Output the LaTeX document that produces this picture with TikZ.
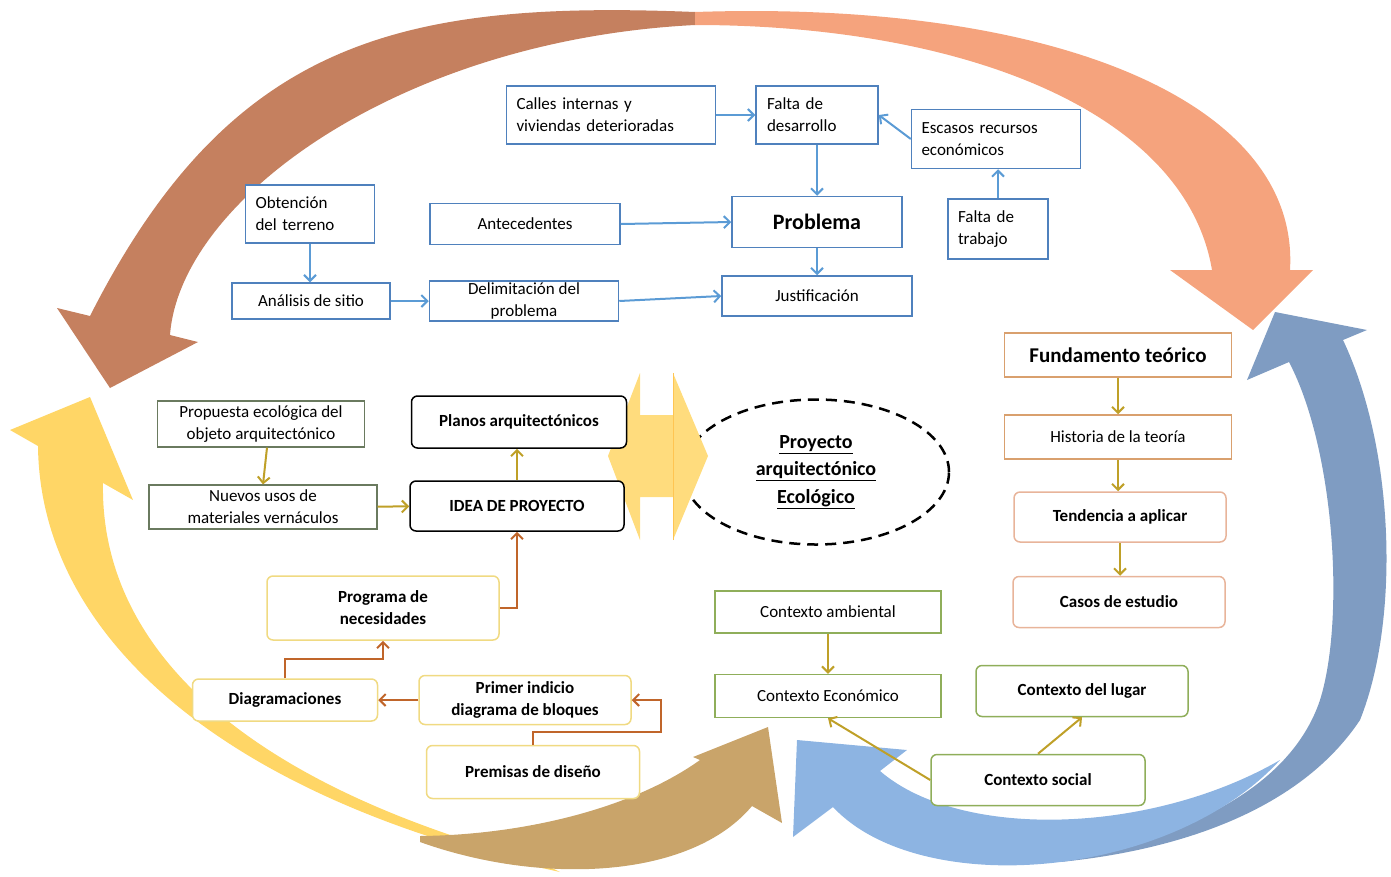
\documentclass[tikz,border=0pt]{standalone}
\usepackage{fontspec}
\setmainfont{Carlito}
\usetikzlibrary{arrows.meta,shapes.geometric}

\definecolor{azulcaja}{RGB}{79,129,189}
\definecolor{azullinea}{RGB}{91,155,213}
\definecolor{cafe}{RGB}{197,128,95}
\definecolor{salmon}{RGB}{245,163,125}
\definecolor{azulgris}{RGB}{127,156,194}
\definecolor{celeste}{RGB}{141,180,226}
\definecolor{amarillo}{RGB}{255,214,102}
\definecolor{ocre}{RGB}{201,164,106}
\definecolor{oro}{RGB}{191,160,40}
\definecolor{naranja}{RGB}{192,101,42}
\definecolor{verdegris}{RGB}{106,122,95}
\definecolor{verde}{RGB}{143,174,90}
\definecolor{tostado}{RGB}{217,160,110}
\definecolor{durazno}{RGB}{232,180,154}
\definecolor{crema}{RGB}{240,218,130}

\begin{document}
\begin{tikzpicture}[x=1pt,y=-1pt,
  caja/.style={draw, line width=1.5pt, fill=white, inner sep=0pt, align=center,
    font=\fontsize{17}{22}\selectfont},
  azul/.style={caja, draw=azulcaja},
  eco/.style={caja, draw=verdegris, line width=1.2pt},
  negra/.style={caja, draw=black, rounded corners=6pt, font=\bfseries\fontsize{17}{22}\selectfont},
  crem/.style={caja, draw=crema, rounded corners=6pt, font=\bfseries\fontsize{17}{22}\selectfont},
  teoria/.style={caja, draw=tostado},
  durz/.style={caja, draw=durazno, rounded corners=6pt, font=\bfseries\fontsize{17}{22}\selectfont},
  ctx/.style={caja, draw=verde},
  ctxb/.style={caja, draw=verde, rounded corners=6pt, font=\bfseries\fontsize{17}{22}\selectfont},
  flecha/.style={line width=2pt, -{Straight Barb[length=6pt,width=12pt]}},
  fazul/.style={flecha, draw=azullinea},
  foro/.style={flecha, draw=oro},
  fnar/.style={flecha, draw=naranja}]
\useasboundingbox (0,0) rectangle (1391,876);

% Flechas grandes del ciclo
\fill[cafe] (695,12) .. controls (400,0) and (230,40) .. (90,316) -- (57,308) -- (110,388)
  -- (198,342) -- (170,335) .. controls (180,200) and (400,40) .. (695,25) -- cycle;
\fill[salmon] (695,12) .. controls (1050,0) and (1300,100) .. (1290,270) -- (1313,270)
  -- (1253,330) -- (1170,270) -- (1212,270) .. controls (1185,110) and (960,25) .. (695,25) -- cycle;
\fill[azulgris] (1060,862) .. controls (1180,850) and (1300,810) .. (1360,720)
  .. controls (1400,620) and (1395,450) .. (1343,340) -- (1367,330) -- (1275,312) -- (1247,380)
  -- (1289,362) .. controls (1335,450) and (1345,620) .. (1320,700)
  .. controls (1290,790) and (1180,840) .. (1060,858) -- cycle;
\fill[celeste] (1280,760) .. controls (1170,880) and (920,900) .. (833,807) -- (793,837)
  -- (797,740) -- (907,750) -- (880,771) .. controls (960,840) and (1150,835) .. (1280,760) -- cycle;
\fill[amarillo] (560,872) .. controls (230,800) and (40,640) .. (38,446) -- (10,430)
  -- (90,397) -- (133,500) -- (103,483) .. controls (100,640) and (230,780) .. (540,862) -- cycle;
\fill[ocre] (420,842) .. controls (540,885) and (690,880) .. (752,806) -- (782,823)
  -- (768,727) -- (693,757) -- (700,760) .. controls (630,810) and (520,835) .. (420,836) -- cycle;

% Problema
\node[azul, minimum width=209pt, minimum height=58pt, text width=189pt, align=left] (calles) at (611,115) {Calles internas y\\viviendas deterioradas};
\node[azul, minimum width=122pt, minimum height=58pt, text width=100pt, align=left] (desarrollo) at (817,115) {Falta de\\desarrollo};
\node[azul, minimum width=169pt, minimum height=59pt, text width=149pt, align=left] (recursos) at (996,139) {Escasos recursos\\económicos};
\node[azul, minimum width=100pt, minimum height=60pt, text width=80pt, align=left] (trabajo) at (998,229) {Falta de\\trabajo};
\node[azul, minimum width=190pt, minimum height=41pt] (antecedentes) at (525,224) {Antecedentes};
\node[azul, minimum width=170pt, minimum height=51pt, font=\bfseries\fontsize{22}{26}\selectfont] (problema) at (817,222) {Problema};
\node[azul, minimum width=129pt, minimum height=58pt, text width=109pt, align=left] (terreno) at (310,214) {Obtención\\del terreno};
\node[azul, minimum width=158pt, minimum height=36pt] (sitio) at (311,301) {Análisis de sitio};
\node[azul, minimum width=189pt, minimum height=40pt] (delimitacion) at (524,301) {Delimitación del\\problema};
\node[azul, minimum width=190pt, minimum height=40pt] (justificacion) at (817,296) {Justificación};

\draw[fazul] (calles) -- (desarrollo);
\draw[fazul] (recursos.west) -- (desarrollo.east);
\draw[fazul] (trabajo.north) -- (trabajo.north|-recursos.south);
\draw[fazul] (desarrollo) -- (problema);
\draw[fazul] (antecedentes.east) -- (problema.west);
\draw[fazul] (problema) -- (justificacion);
\draw[fazul] (terreno.south) -- (terreno.south|-sitio.north);
\draw[fazul] (sitio) -- (delimitacion);
\draw[fazul] (delimitacion.east) -- (justificacion.west);

% Proyecto y flecha doble
\node[ellipse, draw, line width=2.5pt, dash pattern=on 11pt off 7pt, minimum width=266pt, minimum height=145pt,
  align=center, font=\bfseries\fontsize{20}{27.5}\selectfont] (proyecto) at (816,472)
  {\underline{Proyecto}\\\underline{arquitectónico}\\\underline{Ecológico}};
\fill[amarillo!85!white] (608,456) -- (640,373) -- (640,415) -- (673,415) -- (673,373) -- (708,456)
  -- (673,540) -- (673,497) -- (640,497) -- (640,540) -- cycle;
\draw[amarillo!80!orange, line width=0.8pt] (673,373) -- (673,540);

% Idea de proyecto
\node[eco, minimum width=207pt, minimum height=46pt] (propuesta) at (261,424) {Propuesta ecológica del\\objeto arquitectónico};
\node[eco, minimum width=228pt, minimum height=44pt] (nuevos) at (263,507) {Nuevos usos de\\materiales vernáculos};
\node[negra, minimum width=215pt, minimum height=52pt] (planos) at (519,422) {Planos arquitectónicos};
\node[negra, minimum width=214pt, minimum height=50pt] (idea) at (517,506) {IDEA DE PROYECTO};
\node[crem, minimum width=232pt, minimum height=64pt] (programa) at (383,608) {Programa de\\necesidades};
\node[crem, minimum width=185pt, minimum height=42pt] (diagramaciones) at (285,700) {Diagramaciones};
\node[crem, minimum width=212pt, minimum height=49pt] (indicio) at (525,700) {Primer indicio\\diagrama de bloques};
\node[crem, minimum width=213pt, minimum height=53pt] (premisas) at (533,772) {Premisas de diseño};

\draw[foro] ([xshift=6pt]propuesta.south) -- (nuevos.north);
\draw[foro] (nuevos) -- (idea);
\draw[foro] (idea.north) -- (idea.north|-planos.south);
\draw[fnar] (programa.east) -| (idea.south);
\draw[fnar] (diagramaciones.north) -- ++(0,-19) -| (programa.south);
\draw[fnar] (indicio) -- (diagramaciones);
\draw[fnar] (premisas.north) -- ++(0,-13) -| ([xshift=29pt]indicio.east) -- (indicio.east);

% Fundamento teorico
\node[teoria, minimum width=227pt, minimum height=44pt, font=\bfseries\fontsize{21}{26}\selectfont] (fundamento) at (1118,355) {Fundamento teórico};
\node[teoria, minimum width=227pt, minimum height=44pt] (historia) at (1118,437) {Historia de la teoría};
\node[durz, minimum width=212pt, minimum height=50pt] (tendencia) at (1120,517) {Tendencia a aplicar};
\node[durz, minimum width=212pt, minimum height=51pt] (casos) at (1119,602) {Casos de estudio};
\draw[foro] (fundamento) -- (historia);
\draw[foro] (historia.south) -- (historia.south|-tendencia.north);
\draw[foro] (tendencia.south) -- (tendencia.south|-casos.north);

% Contexto
\node[ctx, minimum width=226pt, minimum height=42pt] (ambiental) at (828,612) {Contexto ambiental};
\node[ctx, minimum width=226pt, minimum height=43pt] (economico) at (828,696) {Contexto Económico};
\node[ctxb, minimum width=212pt, minimum height=51pt] (lugar) at (1082,691) {Contexto del lugar};
\node[ctxb, minimum width=214pt, minimum height=51pt] (social) at (1038,780) {Contexto social};
\draw[foro] (ambiental) -- (economico);
\draw[foro] (social.west) -- (economico.south);
\draw[foro] (social.north) -- (lugar.south);
\end{tikzpicture}
\end{document}
